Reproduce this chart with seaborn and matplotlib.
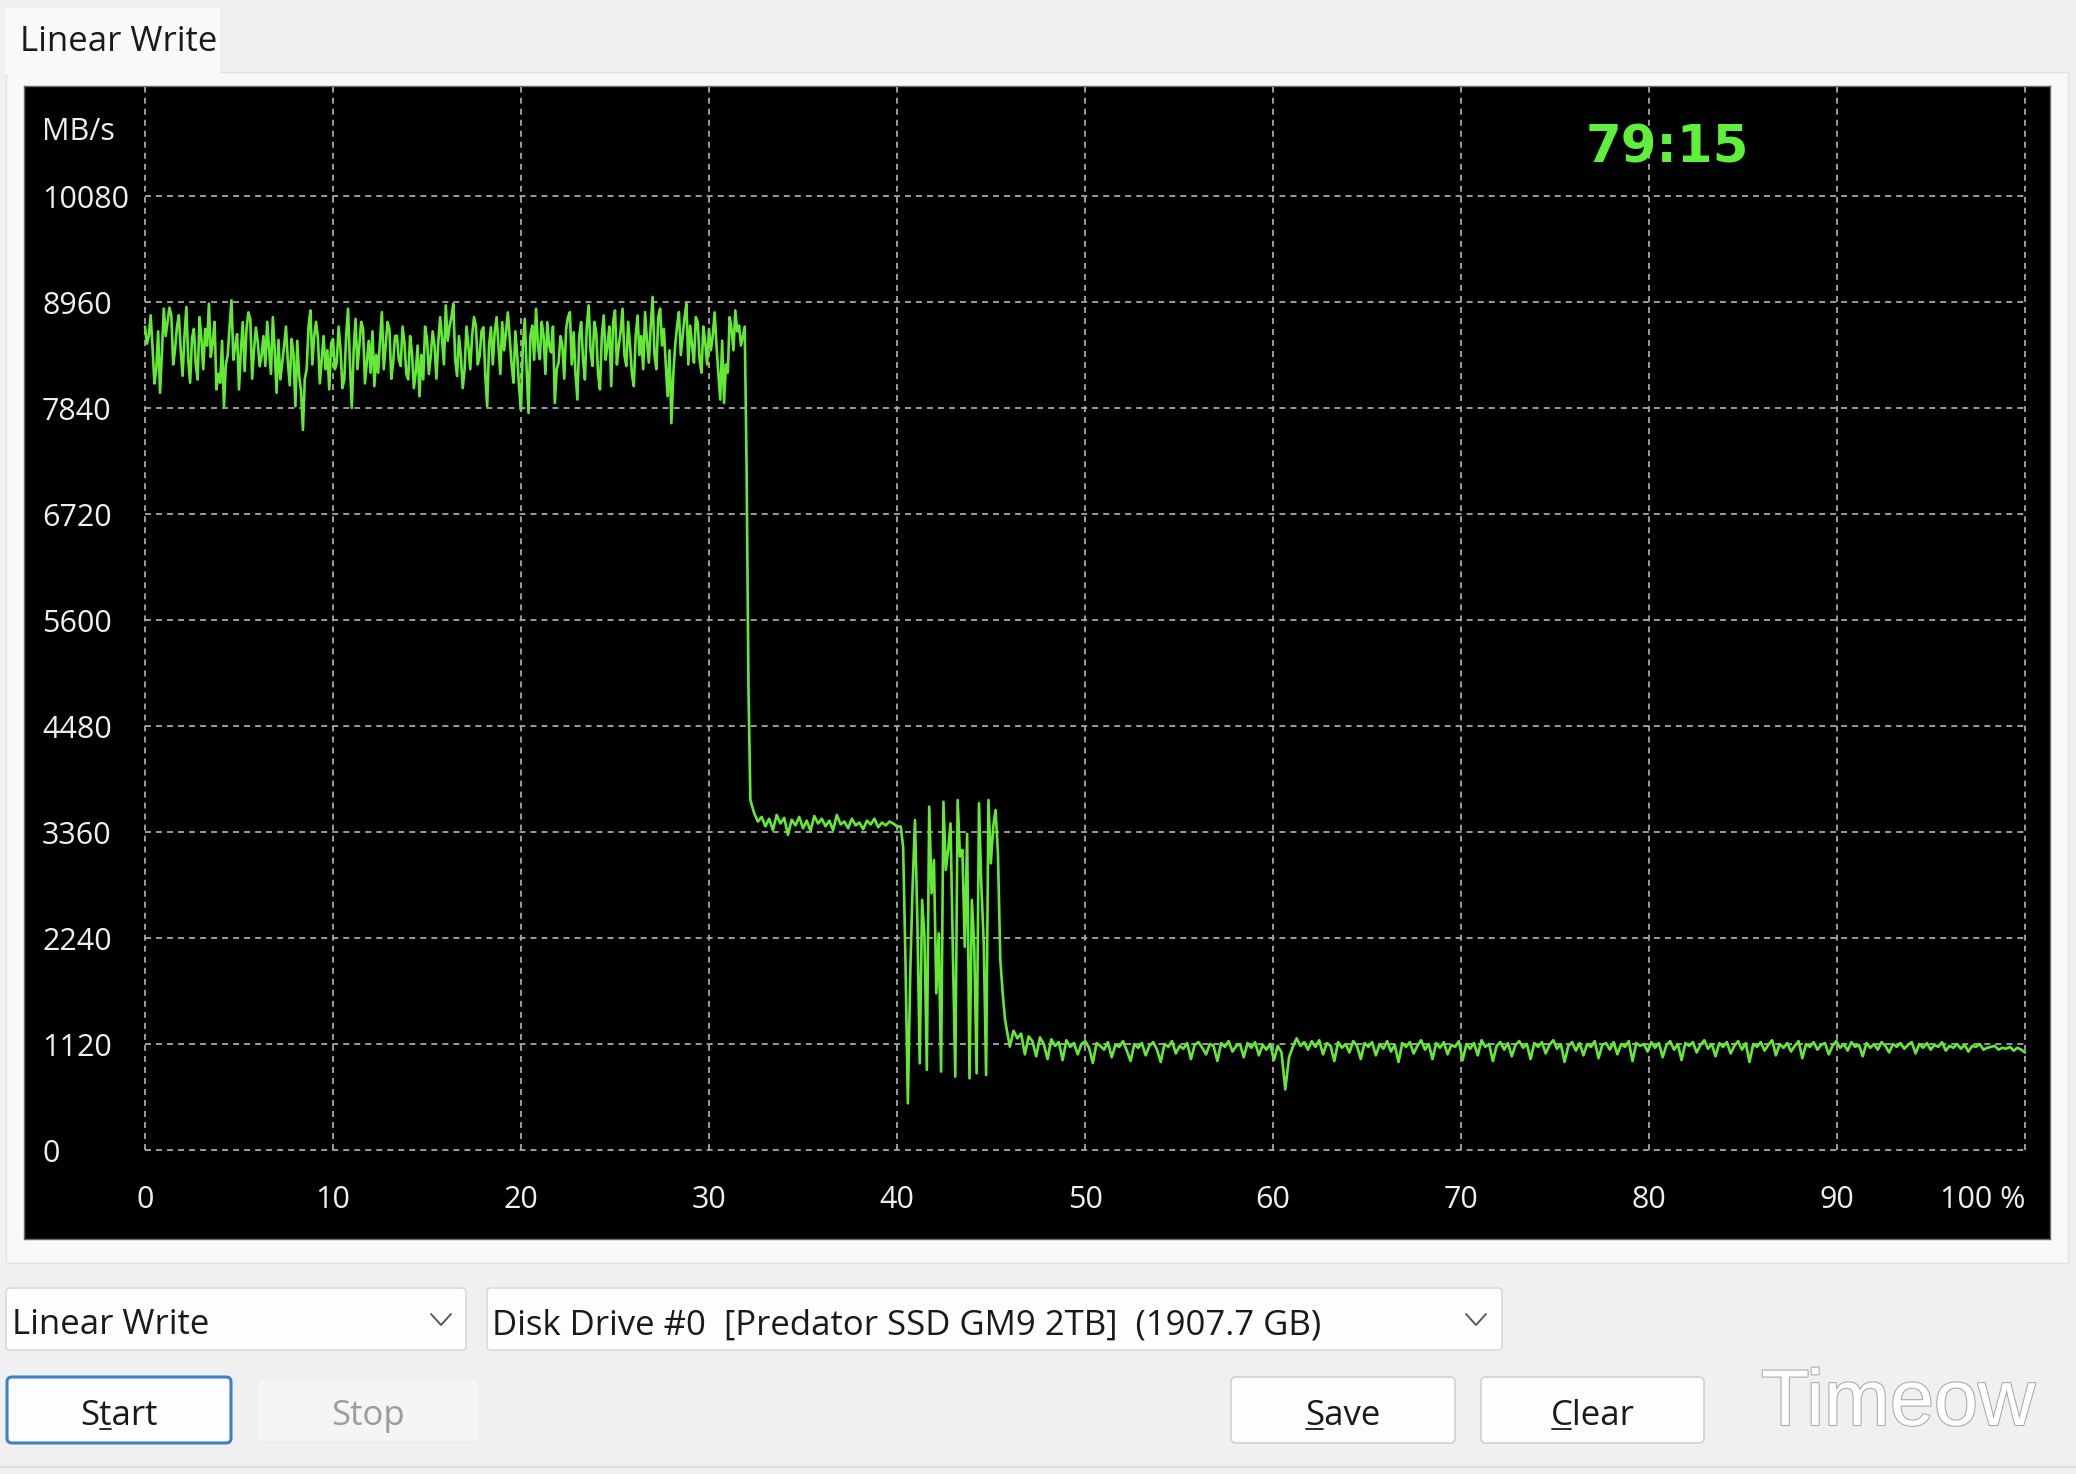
import numpy as np
import pandas as pd
import matplotlib
matplotlib.use("Agg")
import matplotlib.pyplot as plt
import seaborn as sns
from matplotlib.patches import Rectangle, FancyBboxPatch
from matplotlib.lines import Line2D
from matplotlib.transforms import blended_transform_factory, IdentityTransform
from matplotlib import patheffects as pe

# ---------------- data ----------------
Y_TICKS = [0, 1120, 2240, 3360, 4480, 5600, 6720, 7840, 8960, 10080]
X_TICKS = [0, 10, 20, 30, 40, 50, 60, 70, 80, 90, 100]
X_TICK_LABELS = ["0", "10", "20", "30", "40", "50", "60", "70", "80", "90", "100 %"]
Y_UNIT = "MB/s"
ELAPSED = "79:15"

# segment start / end positions (% of disk)
SEG_START = [0.0, 32.4, 40.2, 46.2]
SEG_END = [32.2, 40.0, 46.0, 100.0]

# 0 - 31.9 %, even samples (0.0, 0.2, 0.4 ...)
SEG_A = [8700, 8600, 8480, 8250, 8000, 8890, 8750, 8818, 8460, 8820,
         8180, 8907, 8107, 8676, 8142, 8569, 8676, 8942, 8533, 8036,
         8107, 7858, 8400, 8978, 8498, 8036, 8747, 8676, 8782, 8462,
         8533, 8391, 8284, 8462, 8800, 8000, 8142, 8498, 8320, 8569,
         7858, 8178, 7609, 8250, 8871, 8604, 8569, 8356, 8249, 8036,
         8569, 8320, 8462, 8142, 8889, 7840, 8782, 8498, 8676, 8320,
         8213, 8071, 8213, 8853, 8498, 8676, 8320, 8604, 8284, 8533,
         8142, 8427, 8213, 7964, 8142, 8569, 8391, 8498, 8533, 8569,
         8924, 8700, 8942, 8178, 8391, 8249, 8498, 8604,
         8711, 8391, 8693, 7858, 8693, 8640, 8498, 8747, 8640, 8569,
         8107, 8391, 7822, 8782, 7787, 8711, 8889, 8356, 8604, 8747,
         8427, 7893, 8320, 8498, 8676, 8853, 8640, 7929, 8747, 8142,
         8924, 8284, 8640, 8036, 8818, 8498, 8071, 8871, 8498, 8889,
         8284, 8498, 8071, 8818, 8600, 8853, 8320, 9013, 8250, 8889,
         8676, 7964, 7680, 8498, 8853, 8604, 8942, 8711, 8320, 8747,
         8213, 8533, 8676, 8604, 8498, 7929, 7893, 8213, 8676, 8871,
         8711, 8600]
# odd samples in between (0.1, 0.3, 0.5 ...)
SEG_A_ODD = [8520, 8820, 8100, 8650, 8420, 8600, 8900, 8300, 8700, 8450,
             8600, 8350, 8580, 8300, 8800, 8250, 8500, 8380, 8750, 8200,
             8550, 8300, 8700, 8350, 8620, 8450, 8230, 8850, 8150, 8690,
             8280, 8600, 8750, 8200, 8450, 8560, 8320, 8700, 8080, 8400,
             8550, 8020, 8150, 8700, 8300, 8750, 8100, 8600, 8450, 8520,
             8250, 8700, 8050, 8600, 8300, 8450, 8250, 8750, 8100, 8550,
             8650, 8400, 8550, 8250, 8750, 8150, 8600, 8350, 8700, 8200,
             8600, 8050, 8500, 8400, 8700, 8200, 8650, 8150, 8800, 8300,
             8550, 8800, 8350, 8600, 8050, 8700, 8250, 8800,
             8300, 8650, 8200, 8500, 8300, 8800, 8200, 8450, 8850, 8300,
             8650, 8050, 8500, 8250, 8600, 8350, 8500, 8750, 8200, 8500,
             8700, 8250, 8600, 8150, 8800, 8300, 8200, 8600, 8350, 8700,
             8450, 8750, 8200, 8600, 8350, 8700, 8750, 8300, 8650, 8400,
             8750, 8200, 8600, 8400, 8250, 8550, 8700, 8400, 8800, 8500,
             8300, 8450, 8200, 8700, 8400, 8800, 8300, 8500, 8800, 8350,
             8700, 8300, 8450, 8850, 8200, 8550, 8300, 8800, 8450, 8650,
             8500, 8700]
# the cliff at 32.0 - 32.2 %
SEG_DROP = [7200, 4880, 3700]

# 32.4 - 40 %
SEG_B = [3560, 3470, 3520, 3420, 3500, 3380, 3540, 3450, 3510, 3330,
         3490, 3430, 3520, 3400, 3480, 3370, 3530, 3450, 3500, 3420,
         3480, 3380, 3540, 3440, 3470, 3400, 3500, 3430, 3460, 3390,
         3480, 3440, 3500, 3410, 3460, 3430, 3470, 3450, 3420]

# 40.2 - 46 %  (unstable zone)
SEG_C = [3416, 3204, 1972, 493, 1866, 2783, 3486, 2430, 916, 2642,
         2254, 846, 3627, 2712, 3064, 1655, 2290, 828, 3680, 2959,
         3170, 3451, 2078, 775, 3698, 3100, 3170, 2148, 3340, 757,
         2642, 2148, 810, 3663, 2783, 2200, 792, 3698, 3029, 3416,
         3592, 3134, 2008, 1655, 1374, 1233, 1092]

# 46.2 - 100 %
SEG_D = [1260, 1180, 1230, 1010, 1200, 1150, 990, 1190, 1120, 960,
         1170, 1100, 1140, 950, 1160, 1090, 1130, 1010, 1120, 1150,
         1080, 920, 1130, 1100, 1060, 1140, 980, 1110, 1090, 1150,
         1050, 940, 1120, 1080, 1130, 1000, 1100, 1140, 1060, 930,
         1120, 1090, 1150, 1020, 1100, 1070, 1130, 960, 1110, 1140,
         1080, 1010, 1120, 1100, 940, 1130, 1090, 1150, 1040, 1100,
         1120, 980, 1130, 1080, 1140, 1000, 1110, 1060, 1120, 950,
         1100, 1030, 640, 980, 1090, 1180, 1100, 1140, 1060, 1150,
         1090, 1160, 1010, 1130, 1100, 940, 1140, 1080, 1120, 1030,
         1150, 1100, 960, 1130, 1090, 1140, 1000, 1120, 1070, 1150,
         1040, 1110, 930, 1130, 1090, 1140, 1020, 1100, 1160, 1060,
         1120, 960, 1130, 1080, 1140, 1010, 1110, 1090, 1150, 950,
         1120, 1070, 1130, 1000, 1160, 1090, 1120, 940, 1100, 1140,
         1060, 1130, 990, 1110, 1150, 1080, 1120, 960, 1130, 1090,
         1140, 1020, 1110, 1160, 1070, 1120, 930, 1100, 1140, 1050,
         1130, 1000, 1120, 1090, 1150, 970, 1110, 1130, 1060, 1140,
         1010, 1120, 1090, 1150, 940, 1130, 1100, 1120, 1040, 1140,
         1080, 1130, 980, 1110, 1150, 1060, 1120, 950, 1130, 1100,
         1140, 1030, 1110, 1160, 1070, 1120, 990, 1130, 1090, 1140,
         1020, 1100, 1150, 1060, 1130, 930, 1120, 1090, 1140, 1050,
         1110, 1160, 1000, 1120, 1080, 1130, 1040, 1100, 1150, 970,
         1120, 1090, 1140, 1060, 1110, 1130, 1010, 1100, 1150, 1080,
         1120, 1050, 1140, 1090, 1110, 990, 1130, 1080, 1120, 1060,
         1140, 1100, 1030, 1120, 1090, 1130, 1070, 1110, 1140, 1020,
         1120, 1080, 1130, 1060, 1110, 1090, 1140, 1050, 1100, 1080,
         1120, 1070, 1110, 1040, 1100, 1090, 1120, 1060, 1080, 1090,
         1100, 1060, 1080, 1070, 1090, 1050, 1080, 1060, 1030]

TAB_TITLE = "Linear Write"
TEST_MODE = "Linear Write"
DRIVE = "Disk Drive #0  [Predator SSD GM9 2TB]  (1907.7 GB)"
BUTTONS = ["Start", "Stop", "Save", "Clear"]
UNDERLINE_IDX = [1, None, 0, 0]
WATERMARK = "Timeow"

# ---------------- build table ----------------
seg_a_full = [v for pair in zip(SEG_A, SEG_A_ODD) for v in pair] + SEG_DROP
segs = [seg_a_full, SEG_B, SEG_C, SEG_D]
frames = []
for s0, s1, vals in zip(SEG_START, SEG_END, segs):
    frames.append(pd.DataFrame({"pos": np.linspace(s0, s1, len(vals)), "mbps": vals}))
df = pd.concat(frames, ignore_index=True)

# ---------------- figure ----------------
sns.set_theme(style="dark")
plt.rcParams["font.family"] = ["Open Sans", "DejaVu Sans"]
UI_FS = 25

W, H = 2076, 1474
fig = plt.figure(figsize=(W / 100, H / 100), dpi=100, facecolor="#f0f0f0")

bg = fig.add_axes([0, 0, 1, 1], zorder=0)
bg.set_xlim(0, W)
bg.set_ylim(H, 0)
bg.axis("off")
bg.patch.set_alpha(0)

def rbox(x0, y0, x1, y1, fc, ec, lw=1.0, r=4):
    bg.add_patch(FancyBboxPatch((x0, y0), x1 - x0, y1 - y0,
                                boxstyle=f"round,pad=0,rounding_size={r}",
                                fc=fc, ec=ec, lw=lw))

# panel + tab
bg.add_patch(Rectangle((6, 72), 2062, 1191, fc="#f9f9f9", ec="#e2e2e2", lw=1))
bg.add_patch(Rectangle((5, 8), 215, 66, fc="#f9f9f9", ec="none", lw=0))
bg.text(20, 51, TAB_TITLE, fontsize=UI_FS, color="#1a1a1a", va="baseline", ha="left")

# combo boxes
rbox(6, 1288, 466, 1350, "#fdfdfd", "#d4d4d4")
rbox(487, 1288, 1502, 1350, "#fdfdfd", "#d4d4d4")
bg.text(12, 1334, TEST_MODE, fontsize=UI_FS, color="#1a1a1a", va="baseline")
bg.text(492, 1334, DRIVE, fontsize=UI_FS, color="#1a1a1a", va="baseline")
for cx in (441, 1476):
    bg.plot([cx - 10, cx, cx + 10], [1314, 1325, 1314], color="#505050", lw=1.3)

# buttons
btn_boxes = [(7, 1377, 231, 1443), (257, 1378, 479, 1442),
             (1231, 1377, 1455, 1443), (1481, 1377, 1704, 1443)]
btn_style = [("#fdfdfd", "#3f7fc8", 2.2, "#1a1a1a"),
             ("#f5f5f5", "#ededed", 1.0, "#9c9c9c"),
             ("#fdfdfd", "#d0d0d0", 1.2, "#1a1a1a"),
             ("#fdfdfd", "#d0d0d0", 1.2, "#1a1a1a")]
btn_texts = []
for (x0, y0, x1, y1), (fc, ec, lw, tc), label in zip(btn_boxes, btn_style, BUTTONS):
    rbox(x0, y0, x1, y1, fc, ec, lw=lw, r=5)
    t = bg.text((x0 + x1) / 2, 1425, label, fontsize=UI_FS, color=tc,
                ha="center", va="baseline")
    btn_texts.append(t)

# bottom separator
bg.plot([0, W], [1467, 1467], color="#dadada", lw=1.2)

# watermark
bg.text(1761, 1425, WATERMARK, fontsize=57, color="white", family="Liberation Sans",
        va="baseline", ha="left",
        path_effects=[pe.Stroke(linewidth=1.5, foreground="#a8a8a8"), pe.Normal()])

# ---------------- chart ----------------
L, R, T, B = 24, 2050, 86, 1239
ax = fig.add_axes([L / W, (H - B) / H, (R - L) / W, (B - T) / H], zorder=2)
ax.set_facecolor("black")

px_per_pct = (2025 - 145) / 100.0
px_per_unit = (1150 - 196) / 10080.0
x_lo = -(145 - L) / px_per_pct
x_hi = (R - 145) / px_per_pct
y_lo = -(B - 1150) / px_per_unit
y_hi = (1150 - T) / px_per_unit

dash = (0, (3.3, 2.8))
ax.hlines(Y_TICKS, X_TICKS[0], X_TICKS[-1], colors="#a8a8a8", linestyles=dash, lw=1.3, zorder=1)
ax.vlines(X_TICKS, 0, y_hi, colors="#a8a8a8", linestyles=dash, lw=1.3, zorder=1)

sns.lineplot(data=df, x="pos", y="mbps", ax=ax, estimator=None, sort=False,
             color="#64ea34", linewidth=1.9, zorder=3, legend=False)

ax.set_xlim(x_lo, x_hi)
ax.set_ylim(y_lo, y_hi)
ax.set_xticks([])
ax.set_yticks([])
ax.set_xlabel("")
ax.set_ylabel("")
ax.grid(False)
for sp in ax.spines.values():
    sp.set_visible(True)
    sp.set_color("#6a6a6a")
    sp.set_linewidth(1.0)

TICK_FS = 22
ylab_tr = blended_transform_factory(ax.transAxes, ax.transData)
xlab_tr = blended_transform_factory(ax.transData, ax.transAxes)
lab_x = (42 - L) / (R - L)
for v in Y_TICKS:
    ax.text(lab_x, v, str(v), transform=ylab_tr, color="#eeeeee", fontsize=TICK_FS,
            ha="left", va="center_baseline")
lab_y = (B - 1197) / (B - T)
for xv, s in zip(X_TICKS, X_TICK_LABELS):
    ax.text(xv, lab_y, s, transform=xlab_tr, color="#eeeeee", fontsize=TICK_FS,
            ha="right" if s.endswith("%") else "center", va="center_baseline")
ax.text(lab_x, (B - 129) / (B - T), Y_UNIT, transform=ax.transAxes, color="#eeeeee",
        fontsize=TICK_FS, ha="left", va="center_baseline")
ax.text((1667 - L) / (R - L), (B - 143) / (B - T), ELAPSED, transform=ax.transAxes,
        color="#5ef03a", fontsize=37, fontweight="bold", family="DejaVu Sans",
        ha="center", va="center_baseline")

# access-key underlines on buttons
fig.canvas.draw()
rend = fig.canvas.get_renderer()
for t, idx in zip(btn_texts, UNDERLINE_IDX):
    if idx is None:
        continue
    s = t.get_text()
    bb = t.get_window_extent(rend)
    probe = bg.text(0, 0, "", fontsize=UI_FS)
    def wid(sub):
        if not sub:
            return 0.0
        probe.set_text(sub)
        return probe.get_window_extent(rend).width
    x0 = bb.x0 + wid(s[:idx]) + 1
    x1 = bb.x0 + wid(s[:idx + 1]) - 1
    probe.remove()
    yb = H - 1429
    fig.add_artist(Line2D([x0, x1], [yb, yb], transform=IdentityTransform(),
                          color="#1a1a1a", lw=1.3))

fig.savefig("out.png", dpi=100, facecolor=fig.get_facecolor())
